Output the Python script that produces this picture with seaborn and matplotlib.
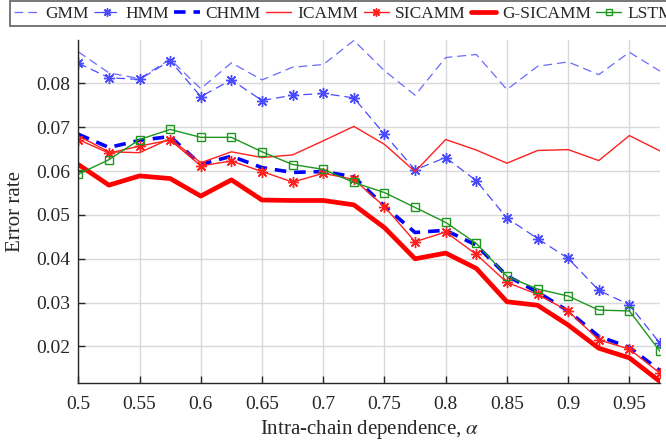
import numpy as np
import pandas as pd
import matplotlib
matplotlib.use("Agg")
import matplotlib.pyplot as plt
import seaborn as sns

alpha_vals = [0.5, 0.525, 0.55, 0.575, 0.6, 0.625, 0.65, 0.675, 0.7, 0.725,
              0.75, 0.775, 0.8, 0.825, 0.85, 0.875, 0.9, 0.925, 0.95, 0.975]

gmm = [0.0872, 0.0824, 0.0811, 0.0855, 0.0788, 0.0847, 0.0808, 0.0837, 0.0843, 0.0898,
       0.0829, 0.0773, 0.0859, 0.0866, 0.0786, 0.0839, 0.0849, 0.0820, 0.0871, 0.0828]
hmm = [0.0846, 0.0813, 0.0809, 0.0852, 0.0770, 0.0808, 0.0761, 0.0773, 0.0777, 0.0767,
       0.0684, 0.0603, 0.0631, 0.0578, 0.0493, 0.0446, 0.0401, 0.0328, 0.0295, 0.0207]
chmm = [0.0684, 0.0654, 0.0670, 0.0679, 0.0615, 0.0634, 0.0608, 0.0597, 0.0599, 0.0587,
        0.0520, 0.0460, 0.0465, 0.0431, 0.0361, 0.0324, 0.0281, 0.0223, 0.0198, 0.0145]
icamm = [0.0680, 0.0644, 0.0642, 0.0674, 0.0619, 0.0644, 0.0631, 0.0637, 0.0669, 0.0702,
         0.0661, 0.0599, 0.0672, 0.0648, 0.0618, 0.0647, 0.0649, 0.0624, 0.0681, 0.0646]
sicamm = [0.0672, 0.0641, 0.0657, 0.0671, 0.0612, 0.0623, 0.0599, 0.0575, 0.0595, 0.0581,
          0.0519, 0.0439, 0.0461, 0.0410, 0.0346, 0.0319, 0.0281, 0.0215, 0.0194, 0.0139]
gsicamm = [0.0615, 0.0568, 0.0589, 0.0583, 0.0543, 0.0580, 0.0534, 0.0533, 0.0533, 0.0523,
           0.0471, 0.0400, 0.0413, 0.0378, 0.0302, 0.0294, 0.0249, 0.0196, 0.0174, 0.0120]
lstm = [0.0593, 0.0626, 0.0672, 0.0695, 0.0677, 0.0677, 0.0644, 0.0615, 0.0604, 0.0574,
        0.0551, 0.0517, 0.0483, 0.0435, 0.0360, 0.0331, 0.0315, 0.0283, 0.0281, 0.0189]

series_names = ["GMM", "HMM", "CHMM", "ICAMM", "SICAMM", "G-SICAMM", "LSTM"]
series_vals = [gmm, hmm, chmm, icamm, sicamm, gsicamm, lstm]

x_ticks = [0.5, 0.55, 0.6, 0.65, 0.7, 0.75, 0.8, 0.85, 0.9, 0.95]
x_ticklabels = ["0.5", "0.55", "0.6", "0.65", "0.7", "0.75", "0.8", "0.85", "0.9", "0.95"]
y_ticks = [0.02, 0.03, 0.04, 0.05, 0.06, 0.07, 0.08]
y_ticklabels = ["0.02", "0.03", "0.04", "0.05", "0.06", "0.07", "0.08"]

sns.set_theme(style="white")
plt.rcParams["font.family"] = ["Liberation Serif", "DejaVu Serif"]
plt.rcParams["mathtext.fontset"] = "stix"

styles = {
    "GMM": dict(color="#6a6aff", lw=0.9, dashes=(7, 4), marker=None),
    "HMM": dict(color="#4a4aff", lw=0.9, dashes=(7, 4), marker=(8, 2, 0)),
    "CHMM": dict(color="#0000ff", lw=2.6, dashes=(3.2, 2.2), marker=None),
    "ICAMM": dict(color="#ff2020", lw=1.0, dashes=None, marker=None),
    "SICAMM": dict(color="#ff2020", lw=1.0, dashes=None, marker=(8, 2, 0)),
    "G-SICAMM": dict(color="#ff0000", lw=3.4, dashes=None, marker=None),
    "LSTM": dict(color="#1e961e", lw=1.0, dashes=None, marker="s"),
}

fig = plt.figure(figsize=(6.66, 4.47), dpi=100)
ax = fig.add_axes([0.1176, 0.1425, 0.8734, 0.768])

for name, vals in zip(series_names, series_vals):
    df = pd.DataFrame({"alpha": alpha_vals, "err": vals})
    st = styles[name]
    kw = dict(color=st["color"], linewidth=st["lw"], label=name)
    if st["marker"] is not None:
        if st["marker"] == "s":
            kw.update(marker="s", markersize=6, markerfacecolor="none",
                      markeredgecolor=st["color"], markeredgewidth=1.0)
        else:
            kw.update(marker=st["marker"], markersize=8,
                      markeredgecolor=st["color"], markeredgewidth=1.0)
    sns.lineplot(data=df, x="alpha", y="err", ax=ax, **kw)
    if st["dashes"] is not None:
        ax.lines[-1].set_dashes(st["dashes"])

ax.set_xlim(0.5, 0.975)
ax.set_ylim(0.0116, 0.0899)
ax.set_xticks(x_ticks)
ax.set_xticklabels(x_ticklabels)
ax.set_yticks(y_ticks)
ax.set_yticklabels(y_ticklabels)
ax.grid(True, color="#d9d9d9", linewidth=1.0)
ax.set_axisbelow(True)
for s in ["top", "right"]:
    ax.spines[s].set_visible(False)
for s in ["left", "bottom"]:
    ax.spines[s].set_color("#262626")
    ax.spines[s].set_linewidth(1.0)
ax.tick_params(axis="both", direction="in", length=5, width=1.0, color="#262626",
               labelsize=14, labelcolor="#262626", left=True, bottom=True)
ax.tick_params(axis="y", pad=6)
ax.tick_params(axis="x", pad=9)
ax.set_xlabel(r"Intra-chain dependence, $\alpha$", fontsize=15, color="#262626", labelpad=4)
ax.set_ylabel("Error rate", fontsize=15, color="#262626", labelpad=8)

if ax.get_legend() is not None:
    ax.get_legend().remove()
handles, labels = ax.get_legend_handles_labels()
leg = fig.legend(handles, labels, loc="upper left", ncol=7,
                 bbox_to_anchor=(0.015, 0.997),
                 fontsize=12.5, frameon=True, fancybox=False, handlelength=1.45,
                 handletextpad=0.35, columnspacing=0.3, borderpad=0.25,
                 borderaxespad=0.0, markerscale=0.75)
leg.get_frame().set_edgecolor("#555555")
leg.get_frame().set_linewidth(1.4)
for t in leg.get_texts():
    t.set_color("#262626")

fig.savefig("out.png", dpi=100)
